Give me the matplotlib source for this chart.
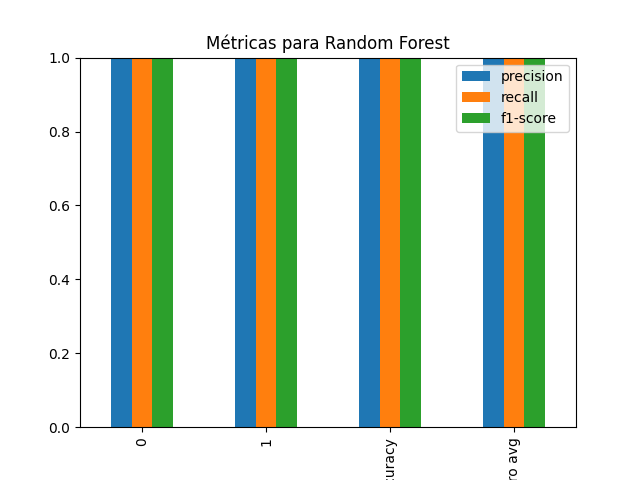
import pandas as pd
import matplotlib
matplotlib.use('Agg')
import matplotlib.pyplot as plt

# Métricas del classification_report
clases = ['0', '1', 'accuracy', 'macro avg']
precision = [1.0, 1.0, 1.0, 1.0]
recall = [1.0, 1.0, 1.0, 1.0]
f1 = [1.0, 1.0, 1.0, 1.0]

df = pd.DataFrame({'precision': precision, 'recall': recall, 'f1-score': f1}, index=clases)

ax = df.plot(kind='bar', figsize=(6.4, 4.8))
ax.set_title('Métricas para Random Forest')
ax.set_ylim(0, 1)
plt.savefig('out.png', dpi=100)
